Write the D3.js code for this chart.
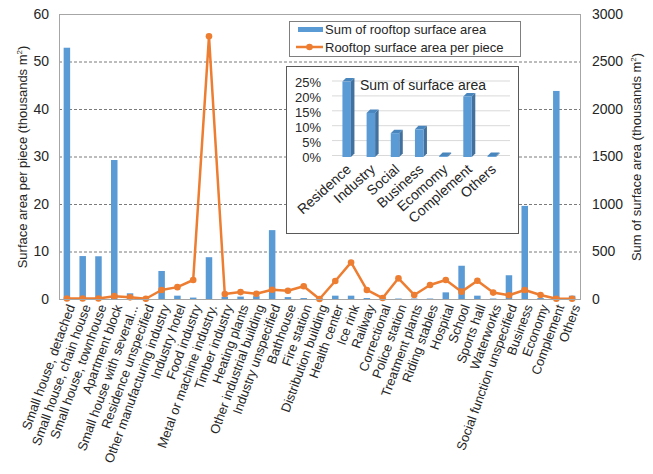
<!DOCTYPE html>
<html lang='en'>
<head>
<meta charset='utf-8'>
<title>Rooftop surface area</title>
<script type='text/javascript' src='https://cdn.jsdelivr.net/npm/d3@7'></script>
<style>
  body { margin: 0; background: #fff; }
  text { font-family: 'Liberation Sans', Arial, sans-serif; fill: #262626; }
</style>
</head>
<body>
<script type='text/javascript'>
// categories along the x axis
var categories = ['Small house, detached', 'Small house, chain house', 'Small house, townhouse', 'Apartment block',
  'Small house with several...', 'Residence unspecified', 'Other manufacturing industry', 'Industry hotel',
  'Food industry', 'Metal or machine industry.', 'Timber industry', 'Heating plants', 'Other industrial building',
  'Industry unspecified', 'Bathhouse', 'Fire station', 'Distribution building', 'Health center', 'Ice rink',
  'Railway', 'Correctional', 'Police station', 'Treatment plants', 'Riding stables', 'Hospital', 'School',
  'Sports hall', 'Waterworks', 'Social function unspecified', 'Business', 'Economy', 'Complement', 'Others'];

// sum of rooftop surface area (thousands m2, right axis)
var sumArea = [2645, 452, 450, 1463, 60, 5, 295, 35, 15, 440, 25, 25, 30, 725, 20, 10, 5, 35, 35, 10, 5, 5, 5, 5,
  70, 350, 35, 5, 250, 980, 10, 2190, 35];

// rooftop surface area per piece (thousands m2, left axis)
var perPiece = [0.1, 0.1, 0.1, 0.6, 0.35, 0.05, 1.9, 2.5, 4.0, 55.3, 1.05, 1.45, 1.1, 1.95, 1.75, 2.7, 0.0, 3.8,
  7.7, 1.9, 0.2, 4.35, 0.85, 2.95, 4.0, 1.55, 3.85, 1.35, 0.8, 1.9, 0.85, 0.05, 0.05];

var leftTicks = [0, 10, 20, 30, 40, 50, 60];
var rightTicks = [0, 500, 1000, 1500, 2000, 2500, 3000];

// inset: share of total surface area by group
var groups = ['Residence', 'Industry', 'Social', 'Business', 'Ecomomy', 'Complement', 'Others'];
var groupShare = [0.253, 0.148, 0.080, 0.093, 0.003, 0.203, 0.003];
var insetTicks = [0, 0.05, 0.10, 0.15, 0.20, 0.25];

{
var width = 653, height = 474;
var blue = '#5B9BD5', orange = '#ED7D31';
var font = "'Liberation Sans', Arial, sans-serif";
var svg = d3.select('body').append('svg').attr('width', width).attr('height', height);

var pLeft = 59, pRight = 580, pTop = 14, pBottom = 299;

var x = d3.scaleBand().domain(categories).range([pLeft, pRight]);
var yL = d3.scaleLinear().domain([0, 60]).range([pBottom, pTop]);
var yR = d3.scaleLinear().domain([0, 3000]).range([pBottom, pTop]);

// gridlines
svg.append('g').selectAll('line').data(leftTicks.filter(d => d > 0 && d < 60)).enter().append('line')
  .attr('x1', pLeft).attr('x2', pRight)
  .attr('y1', d => yL(d) + 0.5).attr('y2', d => yL(d) + 0.5)
  .attr('stroke', '#595959').attr('stroke-width', 0.8).attr('stroke-dasharray', '3,2');

// plot frame
svg.append('rect').attr('x', pLeft + 0.5).attr('y', pTop + 0.5)
  .attr('width', pRight - pLeft).attr('height', pBottom - pTop)
  .attr('fill', 'none').attr('stroke', '#a6a6a6').attr('stroke-width', 1);

// bars
var bw = 6.5;
svg.append('g').selectAll('rect').data(sumArea).enter().append('rect')
  .attr('x', (d, i) => x(categories[i]) + x.bandwidth() / 2 - bw / 2)
  .attr('y', d => yR(d))
  .attr('width', bw)
  .attr('height', d => pBottom - yR(d))
  .attr('fill', blue);

// line
var line = d3.line().x((d, i) => x(categories[i]) + x.bandwidth() / 2).y(d => yL(d));
svg.append('path').datum(perPiece).attr('d', line)
  .attr('fill', 'none').attr('stroke', orange).attr('stroke-width', 2.5).attr('stroke-linejoin', 'round');
svg.append('g').selectAll('circle').data(perPiece).enter().append('circle')
  .attr('cx', (d, i) => x(categories[i]) + x.bandwidth() / 2)
  .attr('cy', d => yL(d)).attr('r', 3.3).attr('fill', orange);

// left axis
var gl = svg.append('g').attr('transform', 'translate(' + pLeft + ',0)')
  .call(d3.axisLeft(yL).tickValues(leftTicks).tickSize(0).tickPadding(10));
gl.select('.domain').remove();
gl.selectAll('text').style('font-size', '14px').style('font-family', font).attr('fill', '#262626');

// right axis
var gr = svg.append('g').attr('transform', 'translate(' + pRight + ',0)')
  .call(d3.axisRight(yR).tickValues(rightTicks).tickFormat(d3.format('d')).tickSize(0).tickPadding(12));
gr.select('.domain').remove();
gr.selectAll('text').style('font-size', '14px').style('font-family', font).attr('fill', '#262626');

// bottom axis
var gb = svg.append('g').attr('transform', 'translate(0,' + pBottom + ')')
  .call(d3.axisBottom(x).tickSize(0).tickPadding(0));
gb.select('.domain').attr('stroke', '#a6a6a6');
gb.selectAll('text')
  .style('font-size', '13px').style('font-family', font).attr('fill', '#262626')
  .attr('text-anchor', 'end')
  .attr('transform', 'translate(4,6) rotate(-70)')
  .attr('dy', '0.35em').attr('y', 0);

// axis titles
var tL = svg.append('text').attr('transform', 'translate(27,157) rotate(-90)')
  .attr('text-anchor', 'middle').style('font-size', '13px');
tL.append('tspan').text('Surface area per piece (thousands m');
tL.append('tspan').text('2').attr('dy', -5).style('font-size', '8px');
tL.append('tspan').text(')').attr('dy', 5);

var tR = svg.append('text').attr('transform', 'translate(641,157) rotate(-90)')
  .attr('text-anchor', 'middle').style('font-size', '13px');
tR.append('tspan').text('Sum of surface area (thousands m');
tR.append('tspan').text('2').attr('dy', -5).style('font-size', '8px');
tR.append('tspan').text(')').attr('dy', 5);

// legend
var lg = svg.append('g');
lg.append('rect').attr('x', 289.5).attr('y', 21.5).attr('width', 231).attr('height', 35)
  .attr('fill', '#fff').attr('stroke', '#7f7f7f');
lg.append('rect').attr('x', 298).attr('y', 27).attr('width', 25).attr('height', 5).attr('fill', blue);
lg.append('text').attr('x', 325).attr('y', 34).style('font-size', '13px').text('Sum of rooftop surface area');
lg.append('line').attr('x1', 296).attr('x2', 323).attr('y1', 47).attr('y2', 47)
  .attr('stroke', orange).attr('stroke-width', 2.5);
lg.append('circle').attr('cx', 309.5).attr('cy', 47).attr('r', 3.3).attr('fill', orange);
lg.append('text').attr('x', 325).attr('y', 52).style('font-size', '13px').text('Rooftop surface area per piece');

// inset chart
var inset = svg.append('g');
inset.append('rect').attr('x', 286.5).attr('y', 66.5).attr('width', 232).attr('height', 167)
  .attr('fill', '#fff').attr('stroke', '#595959');

var ix = d3.scaleBand().domain(groups).range([334.6, 503.8]);
var iy = d3.scaleLinear().domain([0, 0.25]).range([157, 82.5]);
var depth = 3.5;

inset.append('g').selectAll('line').data(insetTicks).enter().append('line')
  .attr('x1', 332).attr('x2', 510)
  .attr('y1', d => iy(d) - 1.5).attr('y2', d => iy(d) - 1.5)
  .attr('stroke', '#d9d9d9').attr('stroke-width', 1);

var ia = inset.append('g')
  .call(d3.axisLeft(iy).tickValues(insetTicks).tickFormat(d3.format('.0%')).tickSize(0).tickPadding(0))
  .attr('transform', 'translate(321,0)');
ia.select('.domain').remove();
ia.selectAll('text').style('font-size', '13px').style('font-family', font).attr('fill', '#262626');

var bwi = 8.5;
var bars = inset.append('g').selectAll('g').data(groupShare).enter().append('g');
// side face
bars.append('path')
  .attr('d', (d, i) => {
    var x1 = ix(groups[i]) + ix.bandwidth() / 2 + bwi / 2;
    var yt = iy(d), yb = iy(0);
    return 'M' + x1 + ',' + yt + 'L' + (x1 + depth) + ',' + (yt - depth) + 'L' + (x1 + depth) + ',' + (yb - depth) +
      'L' + x1 + ',' + yb + 'Z';
  })
  .attr('fill', '#41719C');
// top face
bars.append('path')
  .attr('d', (d, i) => {
    var x0 = ix(groups[i]) + ix.bandwidth() / 2 - bwi / 2;
    var yt = iy(d);
    return 'M' + x0 + ',' + yt + 'L' + (x0 + depth) + ',' + (yt - depth) + 'L' + (x0 + bwi + depth) + ',' + (yt - depth) +
      'L' + (x0 + bwi) + ',' + yt + 'Z';
  })
  .attr('fill', '#4A86BE');
// front face
bars.append('rect')
  .attr('x', (d, i) => ix(groups[i]) + ix.bandwidth() / 2 - bwi / 2)
  .attr('y', d => iy(d))
  .attr('width', bwi)
  .attr('height', d => iy(0) - iy(d))
  .attr('fill', blue);

inset.append('text').attr('x', 360).attr('y', 90).style('font-size', '14px').text('Sum of surface area');

var ib = inset.append('g').attr('transform', 'translate(0,' + iy(0) + ')')
  .call(d3.axisBottom(ix).tickSize(0).tickPadding(0));
ib.select('.domain').remove();
ib.selectAll('text')
  .style('font-size', '14px').style('font-family', font).attr('fill', '#262626')
  .attr('text-anchor', 'end')
  .attr('transform', 'translate(2,10) rotate(-42)')
  .attr('dy', '0.35em').attr('y', 0);
}
</script>
</body>
</html>
